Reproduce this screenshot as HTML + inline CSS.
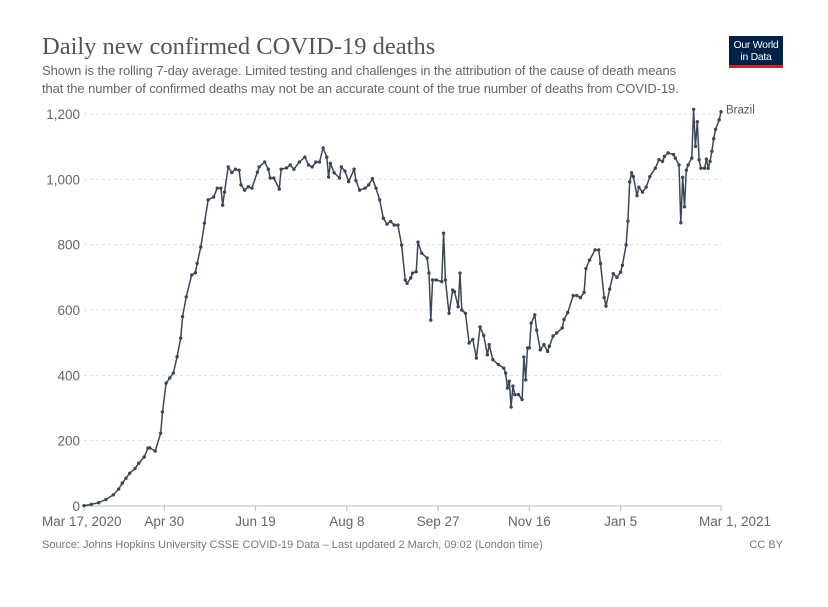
<!DOCTYPE html>
<html><head><meta charset="utf-8"><style>
body{margin:0;background:#fff;width:828px;height:607px;overflow:hidden;font-family:"Liberation Sans",sans-serif}
#title{position:absolute;left:42px;top:33px;font-family:"Liberation Serif",serif;font-size:24.5px;color:#555;white-space:nowrap}
#sub{position:absolute;left:42px;top:62px;font-size:13px;line-height:17.5px;color:#666;white-space:nowrap;letter-spacing:-0.1px}
#logo{position:absolute;left:729px;top:36px;width:54px;height:32px;background:#002147;border-bottom:3px solid #ce261e;color:#fff;font-size:10.5px;line-height:12px;text-align:center;padding-top:3px;box-sizing:border-box;letter-spacing:-0.3px}
#src{position:absolute;left:42px;top:539px;font-size:11px;color:#777}
#cc{position:absolute;right:45px;top:539px;font-size:11px;color:#777}
</style></head><body>
<div id="title">Daily new confirmed COVID-19 deaths</div>
<div id="sub">Shown is the rolling 7-day average. Limited testing and challenges in the attribution of the cause of death means<br>that the number of confirmed deaths may not be an accurate count of the true number of deaths from COVID-19.</div>
<div id="logo">Our World<br>in Data</div>
<svg id="chart" width="828" height="607" style="position:absolute;left:0;top:0"></svg>
<div id="src">Source: Johns Hopkins University CSSE COVID-19 Data – Last updated 2 March, 09:02 (London time)</div>
<div id="cc">CC BY</div>
<script>
const days=[0,4,8,12,16,19,21,23,25,28,30,33,35,36,39,42,43,45,47,49,51,53,54,56,59,61,62,64,66,68,71,73,75,76,77,79,81,83,85,86,88,90,92,95,96,99,101,102,104,107,108,111,113,115,118,121,123,125,127,129,131,133,134,135,137,140,141,143,145,148,149,151,154,156,158,160,162,164,166,168,170,172,174,176,177,179,180,182,183,185,188,189,190,191,193,196,197,198,200,202,203,205,206,207,209,211,213,215,217,219,221,222,224,227,230,231,232,233,234,235,236,238,240,241,242,243,244,245,247,248,250,252,254,255,257,259,262,263,265,268,270,272,274,275,277,280,282,283,285,286,288,290,292,294,295,297,298,299,300,301,303,304,306,308,310,313,315,317,318,320,323,324,326,327,328,329,330,331,333,334,335,336,337,338,340,341,342,343,344,345,346,348,349];
const values=[1,5,10,20,34,52,70,85,100,115,131,150,177,178,168,223,288,376,392,407,457,514,580,640,707,714,743,793,866,937,946,973,973,921,961,1038,1021,1031,1028,983,967,977,973,1022,1038,1053,1031,1004,1004,970,1031,1035,1044,1031,1053,1068,1044,1038,1053,1053,1096,1068,1007,1049,1020,1004,1038,1025,993,1031,996,967,973,983,1002,973,937,881,863,871,860,860,799,692,682,698,713,717,808,774,759,713,569,692,692,687,835,692,590,661,656,610,713,600,590,499,510,453,548,522,463,494,448,433,422,407,361,382,303,367,341,341,326,456,386,484,484,560,585,538,478,494,473,489,520,530,545,571,592,644,644,638,654,727,753,784,784,742,638,612,664,711,700,716,737,799,872,992,1020,1008,950,976,961,976,1008,1034,1060,1055,1070,1081,1076,1065,1044,867,1006,916,1028,1044,1065,1214,1101,1176,1060,1034,1034,1062,1034,1055,1086,1124,1153,1182,1207,1229];
const yTicks=[0,200,400,600,800,1000,1200];
const yTickLabels=["0","200","400","600","800","1,000","1,200"];
const xTickDays=[0,44,94,144,194,244,294,349];
const xTickLabels=["Mar 17, 2020","Apr 30","Jun 19","Aug 8","Sep 27","Nov 16","Jan 5","Mar 1, 2021"];
const svg=document.getElementById('chart'),NS='http://www.w3.org/2000/svg';
const X0=84,X1=721,Y0=506,Y1=114;
const xs=d=>X0+(X1-X0)*d/349, ys=v=>Y0-(Y0-Y1)*v/1200;
function mk(t,a){const e=document.createElementNS(NS,t);for(const k in a)e.setAttribute(k,a[k]);svg.appendChild(e);return e;}
yTicks.forEach((v,i)=>{
 if(v>0){const g=mk('line',{x1:X0,x2:X1,y1:ys(v),y2:ys(v),stroke:'#ddd','stroke-dasharray':'3,3'});
 
 }
 const t=mk('text',{x:80,y:ys(v)+5,'text-anchor':'end','font-size':'13.5',fill:'#666'});
 t.textContent=yTickLabels[i];
 
 
});
const ax=mk('line',{x1:X0,x2:X1,y1:Y0,y2:Y0,stroke:'#bbb'});


xTickDays.forEach((d,i)=>{
 const tk=mk('line',{x1:xs(d),x2:xs(d),y1:Y0,y2:Y0+5,stroke:'#bbb'});
 
 
 const anchor=i==0?'start':(i==xTickDays.length-1?'end':'middle');
 const tx=i==0?xs(d)-42:(i==xTickDays.length-1?xs(d)+50:xs(d));
 const t=mk('text',{x:tx,y:526,'text-anchor':anchor,'font-size':'13.5',fill:'#666'});
 t.textContent=xTickLabels[i];
 
 
});
const pts=days.map((d,i)=>xs(d).toFixed(1)+','+ys(values[i]).toFixed(1)).join(' ');
const ln=mk('polyline',{points:pts,fill:'none',stroke:'#3c4659','stroke-width':1.5,'stroke-linejoin':'round'});


days.forEach((d,i)=>{
 const c=mk('circle',{cx:xs(d),cy:ys(values[i]),r:1.7,fill:'#3c4659'});
 
 
});
const lg=mk('text',{x:726,y:ys(values[values.length-1])+9,'font-size':'11.5',fill:'#555'});
lg.textContent='Brazil';


</script>
</body></html>
